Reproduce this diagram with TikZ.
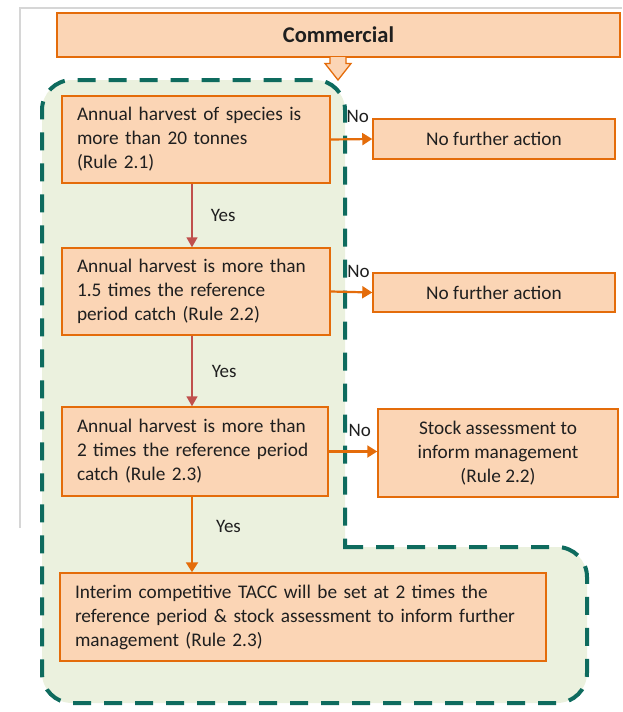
\documentclass[tikz,border=0pt]{standalone}
\usepackage{fontspec}
\setmainfont{Carlito}
\usetikzlibrary{arrows.meta}
\definecolor{boxfill}{HTML}{FBD5B5}
\definecolor{boxline}{HTML}{E46C0A}
\definecolor{zonefill}{HTML}{EBF1DE}
\definecolor{zoneline}{HTML}{0E6B5E}
\definecolor{yesred}{HTML}{C0504D}
\definecolor{framegray}{HTML}{D6D6D6}
\begin{document}
\begin{tikzpicture}[x=1pt,y=1pt]
	\tikzstyle{every node}+=[font=\fontsize{19.3}{24}\selectfont, text=black!88]
	\tikzstyle{testbox}=[draw=boxline, fill=boxfill, line width=1.5pt, inner xsep=15pt, inner ysep=0pt, text width=238pt, minimum height=87pt, align=left]
	\tikzstyle{endbox}=[draw=boxline, fill=boxfill, line width=1.5pt, inner sep=0pt, align=center]
	\tikzstyle{lbl}=[inner sep=0pt, font=\fontsize{19}{22}\selectfont]
	\tikzstyle{noarrow}=[boxline, line width=2.2pt, -{Triangle[length=10pt,width=12pt]}]
	\tikzstyle{yesarrow}=[yesred, line width=1.6pt, -{Triangle[length=10pt,width=11pt]}]
	\useasboundingbox (0,0) rectangle (622,-712);
	\draw [framegray, line width=1.2pt] (20,-528) -- (20,-8) -- (622,-8);
	\fill [zonefill, rounded corners=30pt] (345,-547) -- (587,-547) -- (587,-703) -- (42,-703) -- (42,-80) -- (345,-80) -- (345,-547);
	\draw [zoneline, line width=4pt, dash pattern=on 18pt off 13pt, rounded corners=30pt] (345,-547) -- (587,-547) -- (587,-703) -- (42,-703) -- (42,-80) -- (345,-80) -- (345,-549);
	\node [endbox, minimum width=563pt, minimum height=44pt, font=\fontsize{22.5}{26}\selectfont\bfseries] (com) at (338.5,-35) {Commercial};
	\draw [boxline, fill=boxfill, line width=1.3pt] (330,-57) -- (330,-63.5) -- (325,-63.5) -- (338,-80) -- (351,-63.5) -- (346,-63.5) -- (346,-57);
	\node [testbox] (tonnes) at (196,-139.5) {Annual harvest of species is\\more than 20 tonnes\\(Rule 2.1)};
	\node [testbox] (ratio) at (196,-291.5) {Annual harvest is more than\\1.5 times the reference\\period catch (Rule 2.2)};
	\node [testbox, text width=236pt, minimum height=89pt] (double) at (195,-451.5) {Annual harvest is more than\\2 times the reference period\\catch (Rule 2.3)};
	\node [testbox, text width=456pt, minimum height=88pt] (tacc) at (303,-617) {Interim competitive TACC will be set at 2 times the\\reference period \& stock assessment to inform further\\management (Rule 2.3)};
	\node [endbox, minimum width=242pt, minimum height=40pt] (nfa1) at (494,-139) {No further action};
	\node [endbox, minimum width=242pt, minimum height=39pt] (nfa2) at (494,-292.5) {No further action};
	\node [endbox, minimum width=240pt, minimum height=88pt] (assess) at (498,-453) {Stock assessment to\\inform management\\(Rule 2.2)};
	\draw [noarrow] (tonnes.east) -- (nfa1.west) node [lbl, pos=0.65, above=15pt] {No};
	\draw [noarrow] (ratio.east) -- (nfa2.west) node [lbl, pos=0.67, above=13pt] {No};
	\draw [noarrow] (double.east) -- (double.east -| assess.west) node [lbl, pos=0.64, above=14pt] {No};
	\draw [yesarrow] ([xshift=-4pt]tonnes.south) -- ([xshift=-4pt]ratio.north) node [lbl, midway, right=18pt] {Yes};
	\draw [yesarrow] ([xshift=-4pt]ratio.south) -- ([xshift=-3pt]double.north) node [lbl, midway, right=19pt] {Yes};
	\draw [noarrow] ([xshift=-3pt]double.south) -- ([xshift=-3pt]double.south |- tacc.north) node [lbl, pos=0.4, right=23pt] {Yes};
\end{tikzpicture}
\end{document}
